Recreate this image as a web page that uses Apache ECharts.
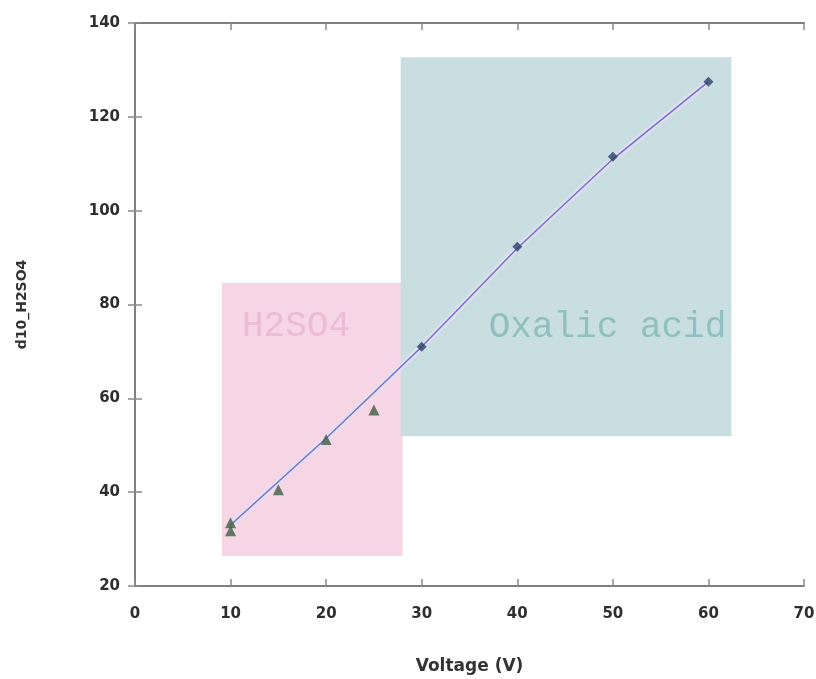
<!DOCTYPE html>
<html>
<head>
<meta charset="utf-8">
<script src="https://cdn.jsdelivr.net/npm/echarts@6/dist/echarts.min.js"></script>
<style>
html,body{margin:0;padding:0;background:#fff;}
#c{width:816px;height:679px;}
</style>
</head>
<body>
<div id="c"></div>
<script>
// ---- data ----
var xTicks = [0, 10, 20, 30, 40, 50, 60, 70];
var yTicks = [20, 40, 60, 80, 100, 120, 140];
var h2so4X = [10, 10, 15, 20, 25];
var h2so4Y = [33.5, 31.8, 40.5, 51.2, 57.5];
var oxalicX = [30, 40, 50, 60];
var oxalicY = [71.0, 92.3, 111.5, 127.5];
var lineX = [10, 20, 30, 40, 50, 60];
var lineY = [33.0, 51.5, 71.0, 92.0, 111.0, 127.5];
var h2so4Box = [[9.1, 26.4], [28.0, 84.6]];
var oxalicBox = [[27.8, 51.9], [62.4, 132.7]];
var h2so4Name = 'H2SO4';
var oxalicName = 'Oxalic acid';
var xName = 'Voltage (V)';
var yName = 'd10_H2SO4';

function pairs(xs, ys) { return xs.map(function (x, i) { return [x, ys[i]]; }); }

var chart = echarts.init(document.getElementById('c'), null, {renderer: 'canvas'});
var axisLineStyle = {color: '#7f7f7f', width: 2};
var tickStyle = {inside: true, length: 7, lineStyle: {color: '#8a8a8a', width: 1.5}};
var tickFont = {fontFamily: 'DejaVu Sans', fontWeight: 'bold', fontSize: 15, color: '#2e2e2e'};

chart.setOption({
  animation: false,
  backgroundColor: '#ffffff',
  grid: {left: 135, right: 12, top: 23, bottom: 93, containLabel: false, outerBoundsMode: 'none'},
  xAxis: [{
    type: 'value', min: xTicks[0], max: xTicks[xTicks.length - 1], interval: 10,
    name: xName, nameLocation: 'middle', nameGap: 72,
    nameTextStyle: {fontFamily: 'DejaVu Sans', fontSize: 17, color: '#333', fontWeight: 'bold'},
    axisLine: {lineStyle: axisLineStyle},
    axisTick: tickStyle,
    axisLabel: Object.assign({margin: 21}, tickFont),
    splitLine: {show: false}
  }, {
    type: 'value', position: 'top', min: xTicks[0], max: xTicks[xTicks.length - 1], interval: 10,
    axisLine: {show: true, lineStyle: axisLineStyle},
    axisTick: tickStyle,
    axisLabel: {show: false}, splitLine: {show: false}
  }],
  yAxis: [{
    type: 'value', min: yTicks[0], max: yTicks[yTicks.length - 1], interval: 20,
    name: yName, nameLocation: 'middle', nameGap: 106, nameRotate: 90,
    nameTextStyle: {fontFamily: 'DejaVu Sans', fontSize: 14, color: '#333', fontWeight: 'bold'},
    axisLine: {lineStyle: axisLineStyle},
    axisTick: tickStyle,
    axisLabel: Object.assign({margin: 15}, tickFont),
    splitLine: {show: false}
  }, {
    type: 'value', position: 'right', min: yTicks[0], max: yTicks[yTicks.length - 1], interval: 20,
    axisLine: {show: true, lineStyle: axisLineStyle},
    axisTick: tickStyle,
    axisLabel: {show: false}, splitLine: {show: false}
  }],
  series: [
    {
      type: 'line', data: [], silent: true, z: 1,
      markArea: {
        silent: true,
        data: [
          [{coord: h2so4Box[0], itemStyle: {color: '#f6d5e5'},
            label: {show: true, formatter: h2so4Name, position: [20, 44], align: 'left', verticalAlign: 'middle',
                    fontFamily: 'Liberation Mono', fontSize: 36, color: '#ebbcd2'}},
           {coord: h2so4Box[1]}],
          [{coord: oxalicBox[0], itemStyle: {color: '#c8dee1'},
            label: {show: true, formatter: oxalicName, position: [88, 270], align: 'left', verticalAlign: 'middle',
                    fontFamily: 'Liberation Mono', fontSize: 36, color: '#8fbfbe'}},
           {coord: oxalicBox[1]}]
        ]
      }
    },
    {
      type: 'line', data: pairs(lineX, lineY), symbol: 'none', silent: true, z: 2,
      lineStyle: {color: '#e2e0f6', width: 6, opacity: 0.8}
    },
    {
      type: 'line', data: pairs(lineX, lineY), symbol: 'none', silent: true, z: 3,
      lineStyle: {color: '#7a72c4', width: 1.5}
    },
    {
      type: 'scatter', data: pairs(h2so4X, h2so4Y), symbol: 'triangle', symbolSize: 11, z: 4,
      itemStyle: {color: '#3f5e40'}
    },
    {
      type: 'scatter', data: pairs(oxalicX, oxalicY), symbol: 'diamond', symbolSize: 10, z: 4,
      itemStyle: {color: '#2c4168'}
    }
  ]
});
</script>
</body>
</html>
